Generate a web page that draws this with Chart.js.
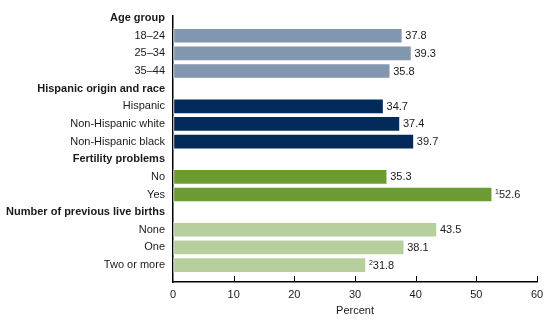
<!DOCTYPE html>
<html>
<head>
<meta charset="utf-8">
<script src="https://cdn.jsdelivr.net/npm/chart.js@4/dist/chart.umd.min.js"></script>
<style>
html,body{margin:0;padding:0;background:#fff;}
#wrap{width:560px;height:329px;position:relative;}
</style>
</head>
<body>
<div id="wrap"><canvas id="c" width="560" height="329"></canvas></div>
<script>
// ---- data ----
const groupTitles = ['Age group', 'Hispanic origin and race', 'Fertility problems', 'Number of previous live births'];
const ageLabels = ['18–24', '25–34', '35–44'];
const ageValues = [37.8, 39.3, 35.8];
const raceLabels = ['Hispanic', 'Non-Hispanic white', 'Non-Hispanic black'];
const raceValues = [34.7, 37.4, 39.7];
const fertilityLabels = ['No', 'Yes'];
const fertilityValues = [35.3, 52.6];
const fertilityNotes = ['', '1'];
const birthLabels = ['None', 'One', 'Two or more'];
const birthValues = [43.5, 38.1, 31.8];
const birthNotes = ['', '', '2'];
const xTicks = [0, 10, 20, 30, 40, 50, 60];

const groupColors = ['#8196af', '#022b5c', '#6c9b31', '#b7cf9d'];

// ---- build rows ----
const groups = [
  {labels: ageLabels, values: ageValues, notes: ['', '', '']},
  {labels: raceLabels, values: raceValues, notes: ['', '', '']},
  {labels: fertilityLabels, values: fertilityValues, notes: fertilityNotes},
  {labels: birthLabels, values: birthValues, notes: birthNotes}
];
const rowLabels = [];
const headingRows = new Set();
const points = [];
const colors = [];
const notes = [];
groups.forEach((g, gi) => {
  headingRows.add(rowLabels.length);
  rowLabels.push(groupTitles[gi]);
  g.labels.forEach((lab, i) => {
    const row = rowLabels.length;
    rowLabels.push(lab);
    points.push({x: g.values[i], y: row});
    colors.push(groupColors[gi]);
    notes.push(g.notes[i]);
  });
});

const FONT = '"Liberation Sans", Arial, sans-serif';

const valueLabels = {
  id: 'valueLabels',
  afterDatasetsDraw(chart) {
    const ctx = chart.ctx;
    const xs = chart.scales.x, ys = chart.scales.y;
    ctx.save();
    ctx.fillStyle = '#1a1a1a';
    ctx.textBaseline = 'middle';
    ctx.textAlign = 'left';
    points.forEach((p, i) => {
      let x = xs.getPixelForValue(p.x) + 3;
      const y = ys.getPixelForValue(p.y) + 0.5;
      if (notes[i]) {
        ctx.font = '7px ' + FONT;
        ctx.fillText(notes[i], x, y - 3);
        x += ctx.measureText(notes[i]).width;
      }
      ctx.font = '11px ' + FONT;
      ctx.fillText(p.x.toFixed(1), x, y);
    });
    // x tick marks drawn upward from the axis
    ctx.strokeStyle = '#000';
    ctx.lineWidth = 1;
    const bottom = chart.chartArea.bottom;
    xTicks.forEach(v => {
      if (v === 0) return;
      const px = Math.round(xs.getPixelForValue(v)) + 0.5;
      ctx.beginPath();
      ctx.moveTo(px, bottom);
      ctx.lineTo(px, bottom - 6);
      ctx.stroke();
    });
    ctx.restore();
  }
};

new Chart(document.getElementById('c'), {
  type: 'bar',
  data: {
    datasets: [{
      data: points,
      backgroundColor: colors,
      borderColor: 'rgba(255,255,255,0.45)',
      borderWidth: 1,
      borderSkipped: false,
      barThickness: 15
    }]
  },
  options: {
    indexAxis: 'y',
    responsive: false,
    animation: false,
    events: [],
    layout: {padding: {top: 16, right: 23, bottom: 0, left: 0}},
    plugins: {legend: {display: false}, tooltip: {enabled: false}},
    scales: {
      x: {
        type: 'linear',
        bounds: 'data',
        offset: false,
        min: 0, max: 60,
        afterFit(s) { s.height = 47; },
        afterBuildTicks(s) { s.ticks = xTicks.map(v => ({value: v})); },
        grid: {display: true, drawOnChartArea: false, drawTicks: false},
        border: {display: true, color: '#000', width: 1.5},
        ticks: {color: '#1a1a1a', font: {family: FONT, size: 11}, padding: 6, maxRotation: 0},
        title: {display: true, text: 'Percent', color: '#1a1a1a', font: {family: FONT, size: 11}, padding: {top: 0, bottom: 11}}
      },
      y: {
        type: 'linear',
        bounds: 'data',
        offset: false,
        reverse: true,
        min: -0.12, max: 14.96,
        afterFit(s) { s.width = 173; },
        afterBuildTicks(s) { s.ticks = rowLabels.map((_, i) => ({value: i})); },
        grid: {display: false, drawTicks: false},
        border: {display: true, color: '#000', width: 1.5},
        ticks: {
          autoSkip: false,
          includeBounds: false,
          padding: 8,
          color: '#1a1a1a',
          callback: v => rowLabels[v],
          font: c => ({family: FONT, size: 11, weight: headingRows.has(c.tick && c.tick.value) ? 'bold' : 'normal'})
        }
      }
    }
  },
  plugins: [valueLabels]
});
</script>
</body>
</html>
